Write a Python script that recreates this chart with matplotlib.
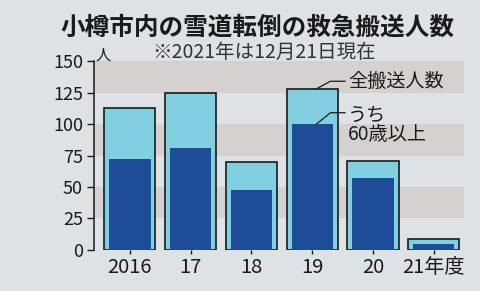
import numpy as np
import matplotlib.pyplot as plt

plt.rcParams['font.family'] = ['Noto Sans CJK JP', 'DejaVu Sans']

# data
years = ['2016', '17', '18', '19', '20', '21年度']
total = [113, 125, 70, 128, 71, 9]      # 全搬送人数
over60 = [72, 81, 48, 100, 57, 5]       # うち60歳以上
yticks = [0, 25, 50, 75, 100, 125, 150]

light = '#80d0e2'
dark = '#1e4c98'
paper = '#dee2e5'
band = '#d4d1d0'
ink = '#1a1a1a'

fig = plt.figure(figsize=(4.8, 2.91), dpi=100, facecolor=paper)
ax = fig.add_axes([0.196, 0.141, 0.771, 0.649])
ax.set_facecolor(paper)

# grey stripes behind the bars
for lo in (25, 75, 125):
    ax.axhspan(lo, lo + 25, color=band, lw=0, zorder=0)

x = np.arange(len(years))
ax.bar(x, total, width=0.84, color=light, edgecolor=ink, linewidth=1.2, zorder=2)
ax.bar(x, over60, width=0.68, color=dark, linewidth=0, zorder=3)

ax.set_xlim(-0.59, 5.5)
ax.set_ylim(0, 150)
ax.set_yticks(yticks)
ax.set_xticks(x)
ax.set_xticklabels(years, fontsize=14.5, color=ink)
ax.tick_params(axis='y', length=5, width=1, color=ink, pad=3, labelsize=13, labelcolor=ink)
ax.tick_params(axis='x', length=3, width=1, color=ink, pad=2)

for s in ('top', 'right', 'bottom'):
    ax.spines[s].set_visible(False)
ax.spines['left'].set_color(ink)
ax.spines['left'].set_linewidth(1.1)

# leader lines and labels on the 2019 bar
i = 3
ax.plot([i + 0.07, i + 0.3, i + 0.54], [total[i], total[i] + 6, total[i] + 6],
        color=ink, lw=0.9, zorder=4, clip_on=False)
ax.text(i + 0.59, total[i] + 6, '全搬送人数', fontsize=13.8, color=ink,
        va='center', ha='left')
ax.plot([i + 0.07, i + 0.3, i + 0.54], [over60[i], over60[i] + 9, over60[i] + 9],
        color=ink, lw=0.9, zorder=4, clip_on=False)
ax.text(i + 0.59, over60[i] + 7, 'うち', fontsize=13.8, color=ink,
        va='center', ha='left')
ax.text(i + 0.59, over60[i] - 8, '60歳以上', fontsize=13.8, color=ink,
        va='center', ha='left')

fig.text(0.125, 0.905, '小樽市内の雪道転倒の救急搬送人数', fontsize=17.7,
         fontweight='bold', color=ink, va='center', ha='left')
fig.text(0.318, 0.82, '※2021年は12月21日現在', fontsize=14, color='#333333',
         va='center', ha='left')
fig.text(0.2, 0.81, '人', fontsize=11, color=ink, va='center', ha='left')

fig.savefig('out.png', dpi=100, facecolor=paper)
